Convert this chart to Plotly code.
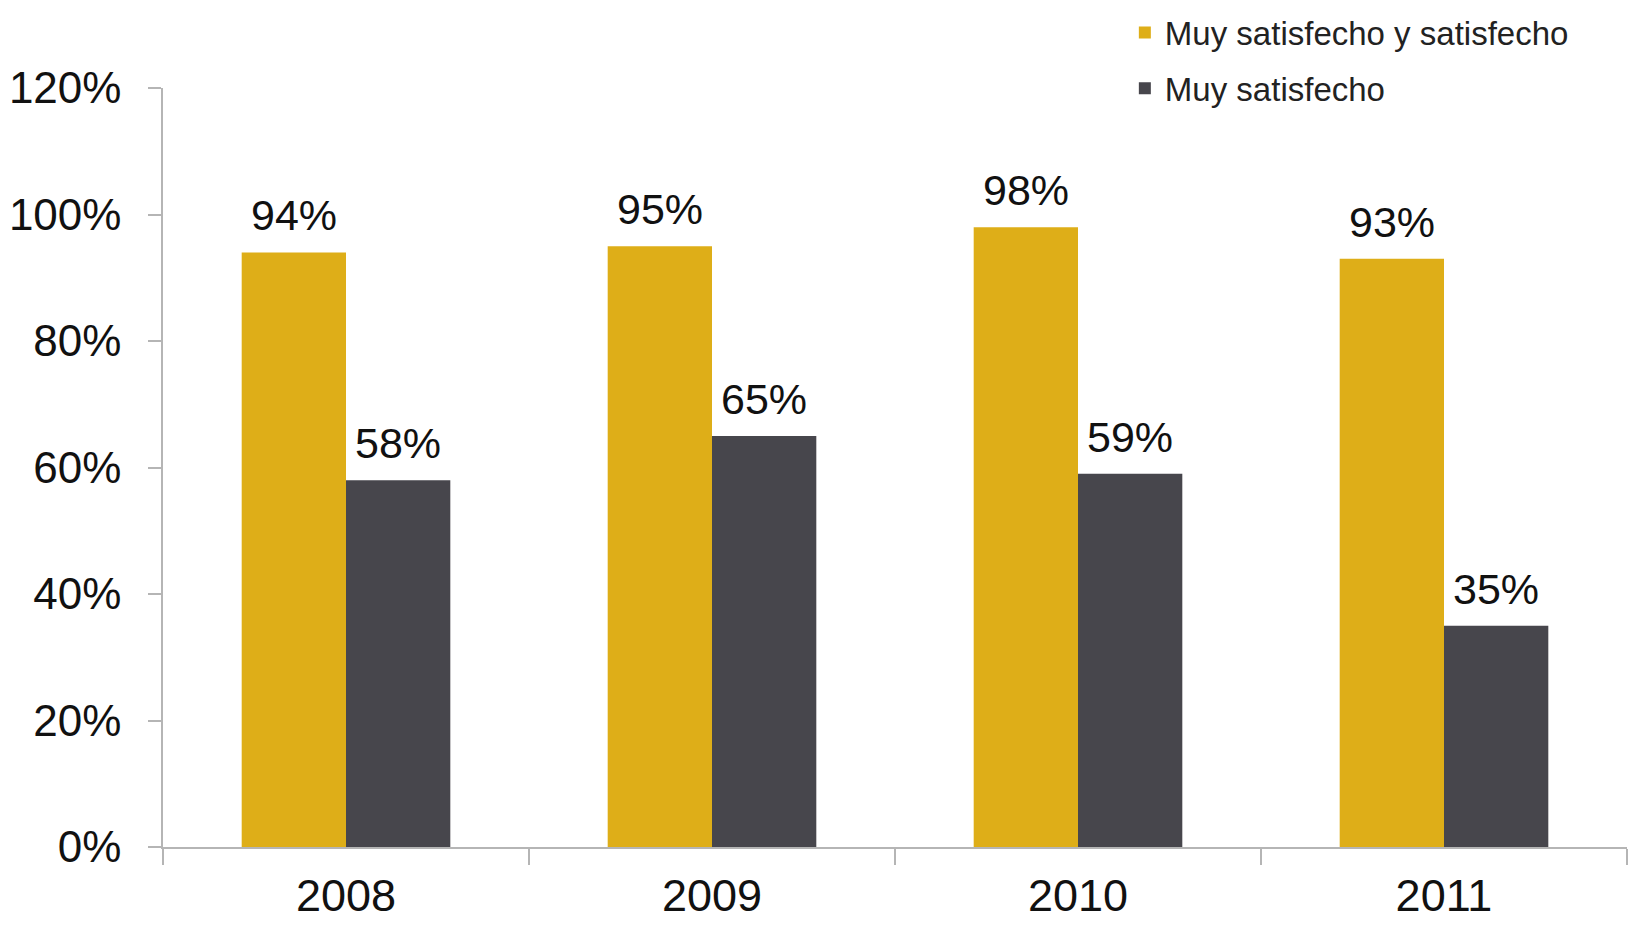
import plotly.graph_objects as go

years = ["2008", "2009", "2010", "2011"]
muy_sat_y_sat = [94, 95, 98, 93]
muy_sat = [58, 65, 59, 35]
series_names = ["Muy satisfecho y satisfecho", "Muy satisfecho"]
y_ticks = [0, 20, 40, 60, 80, 100, 120]

FONT = "Liberation Sans, Arial, sans-serif"
GOLD = "#DEAE18"
DARK = "#47464C"

fig = go.Figure()
fig.add_trace(go.Bar(
    x=years, y=muy_sat_y_sat, name=series_names[0], legendgroup="a",
    marker=dict(color=GOLD, line=dict(width=0)),
))
fig.add_trace(go.Bar(
    x=years, y=muy_sat, name=series_names[1], legendgroup="b",
    marker=dict(color=DARK, line=dict(width=0)),
))

# value labels above bars; x is the category serial number on the category axis
for vals, xs in ((muy_sat_y_sat, -52), (muy_sat, 52)):
    for i, v in enumerate(vals):
        fig.add_annotation(
            x=i, y=v, xref="x", yref="y", text=f"{v}%", showarrow=False,
            xshift=xs, yshift=37, yanchor="middle", xanchor="center",
            font=dict(size=43, color="#111111", family=FONT),
        )

fig.update_layout(
    width=1631, height=925,
    margin=dict(l=163, r=4, t=85, b=78),
    paper_bgcolor="white", plot_bgcolor="white",
    barmode="group", bargap=0.43, bargroupgap=0,
    font=dict(family=FONT, color="#111111"),
    legend=dict(
        x=0.657, y=1.11, xanchor="left", yanchor="top",
        font=dict(size=33, color="#222222", family=FONT),
        traceorder="grouped", tracegroupgap=10,
        bgcolor="rgba(0,0,0,0)",
    ),
    showlegend=True,
)
fig.update_xaxes(
    type="category", categoryorder="array", categoryarray=years, automargin=False,
    showline=True, linecolor="#B5B5B5", linewidth=1.5,
    ticks="outside", tickson="boundaries", ticklen=16, tickcolor="#B5B5B5", tickwidth=1.5,
    tickfont=dict(size=45, color="#111111", family=FONT), ticklabelstandoff=8,
    showgrid=False, zeroline=False,
)
fig.update_yaxes(
    range=[0, 120], tickvals=y_ticks, ticktext=[f"{v}%" for v in y_ticks], automargin=False,
    showline=True, linecolor="#B5B5B5", linewidth=1.5,
    ticks="outside", ticklen=13, tickcolor="#B5B5B5", tickwidth=1.5,
    tickfont=dict(size=44, color="#111111", family=FONT), ticklabelstandoff=18,
    showgrid=False, zeroline=False,
)

fig.write_html(
    "out.html",
    config={"displayModeBar": False},
    post_script="document.body.style.margin='0';document.body.style.overflow='hidden';",
)
